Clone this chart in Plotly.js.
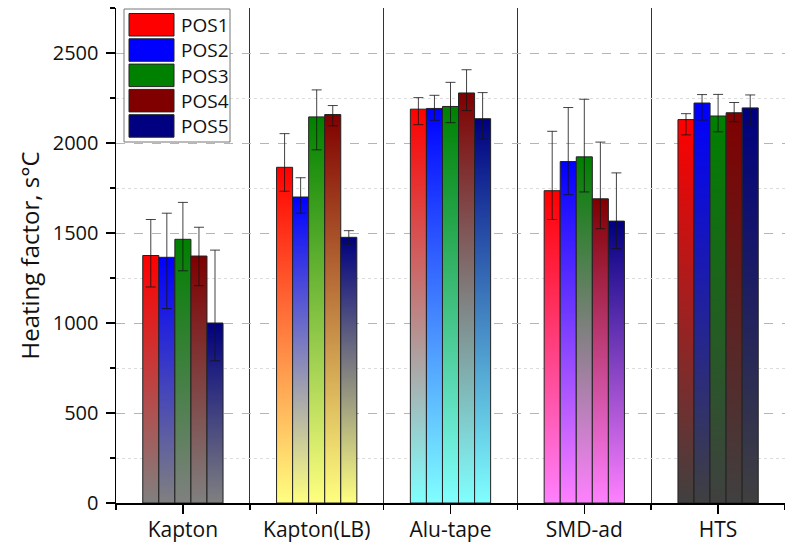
<!DOCTYPE html>
<html>
<head>
<meta charset="utf-8">
<script src="https://cdn.plot.ly/plotly-3.0.1.min.js"></script>
<style>
  html, body { margin: 0; padding: 0; background: #fff; }
  #chart { width: 785px; height: 544px; }
</style>
</head>
<body>
<div id="chart"></div>
<script>
// Sample groups along the x axis
const categories = ['Kapton', 'Kapton(LB)', 'Alu-tape', 'SMD-ad', 'HTS'];
const seriesNames = ['POS1', 'POS2', 'POS3', 'POS4', 'POS5'];

// Heating factor (s°C) per position, one value per sample group
const pos1 = [1375, 1865, 2188, 1735, 2130];
const pos2 = [1365, 1700, 2192, 1897, 2222];
const pos3 = [1465, 2145, 2203, 1923, 2150];
const pos4 = [1372, 2158, 2278, 1690, 2168];
const pos5 = [1000, 1476, 2135, 1566, 2195];

// Error bar extents above (plus) and below (minus) each value
const pos1Plus  = [200, 187, 64, 330, 33];
const pos1Minus = [175, 133, 86, 160, 85];
const pos2Plus  = [245, 107, 73, 300, 47];
const pos2Minus = [285, 90, 66, 184, 95];
const pos3Plus  = [205, 150, 134, 320, 120];
const pos3Minus = [175, 183, 90, 195, 88];
const pos4Plus  = [160, 50, 129, 315, 57];
const pos4Minus = [165, 62, 98, 166, 50];
const pos5Plus  = [405, 37, 145, 268, 72];
const pos5Minus = [210, 38, 113, 153, 96];

const seriesValues = [pos1, pos2, pos3, pos4, pos5];
const seriesPlus = [pos1Plus, pos2Plus, pos3Plus, pos4Plus, pos5Plus];
const seriesMinus = [pos1Minus, pos2Minus, pos3Minus, pos4Minus, pos5Minus];

// Bar top colours per position, bar base colours per sample group
const seriesColors = ['#ff0000', '#0000ff', '#008000', '#800000', '#000080'];
const groupBaseColors = ['#808080', '#ffff80', '#80ffff', '#ff80ff', '#404040'];

const barW = 0.12;   // width of one bar in category units
const nSeries = seriesNames.length;
const offsetOf = s => (s - (nSeries - 1) / 2) * barW;

const traces = [];

// Gradient-filled bars: each bar is a closed outline filled from base colour to position colour
seriesValues.forEach((vals, s) => {
  vals.forEach((v, g) => {
    const xc = g + offsetOf(s);
    const x0 = xc - barW / 2, x1 = xc + barW / 2;
    traces.push({
      type: 'scatter',
      mode: 'lines',
      x: [x0, x1, x1, x0, x0],
      y: [0, 0, v, v, 0],
      fill: 'toself',
      fillgradient: {
        type: 'vertical',
        start: 0,
        stop: v,
        colorscale: [[0, groupBaseColors[g]], [1, seriesColors[s]]]
      },
      line: { color: '#222', width: 1 },
      hoverinfo: 'skip',
      showlegend: false
    });
  });
});

// Error bars for each position
seriesValues.forEach((vals, s) => {
  traces.push({
    type: 'scatter',
    mode: 'markers',
    x: vals.map((_, g) => g + offsetOf(s)),
    y: vals,
    marker: { size: 1, color: 'rgba(0,0,0,0)' },
    error_y: {
      type: 'data',
      symmetric: false,
      array: seriesPlus[s],
      arrayminus: seriesMinus[s],
      color: 'rgba(20,20,20,0.8)',
      thickness: 1,
      width: 5
    },
    hoverinfo: 'skip',
    showlegend: false
  });
});

// Plot area geometry in pixels (used to place the boxed legend)
const W = 785, H = 544;
const M = { l: 116, r: 0, t: 8, b: 41 };
const pw = W - M.l - M.r, ph = H - M.t - M.b;
const px = x => (x - M.l) / pw;
const py = y => (H - M.b - y) / ph;

const shapes = [];
const annotations = [];

// Legend frame
shapes.push({
  type: 'rect', xref: 'paper', yref: 'paper', layer: 'above',
  x0: px(124), x1: px(230), y0: py(142), y1: py(9),
  line: { color: '#777', width: 1 }, fillcolor: '#fff'
});
seriesNames.forEach((name, i) => {
  const top = 13.5 + i * 25.3;
  shapes.push({
    type: 'rect', xref: 'paper', yref: 'paper', layer: 'above',
    x0: px(129), x1: px(174), y0: py(top + 22.5), y1: py(top),
    line: { color: '#222', width: 1 }, fillcolor: seriesColors[i]
  });
  annotations.push({
    xref: 'paper', yref: 'paper', x: px(179), y: py(top + 11.5),
    xanchor: 'left', yanchor: 'middle', showarrow: false,
    text: name,
    font: { family: 'Liberation Sans Narrow, Open Sans, sans-serif', size: 19, color: '#111' }
  });
});

const layout = {
  width: W, height: H,
  margin: M,
  paper_bgcolor: '#fff',
  plot_bgcolor: '#fff',
  showlegend: false,
  font: { family: 'Open Sans, sans-serif', color: '#111' },
  xaxis: {
    range: [-0.5, 4.5],
    tickmode: 'array',
    tickvals: categories.map((_, i) => i),
    ticktext: categories,
    ticks: 'outside', ticklen: 9, tickwidth: 1.5, tickcolor: '#000',
    ticklabelstandoff: -2,
    showline: true, linecolor: '#000', linewidth: 1.5,
    showgrid: false, zeroline: false,
    tickfont: { size: 21, family: 'Open Sans, sans-serif', color: '#111' },
    minor: {
      tickmode: 'linear', tick0: -0.5, dtick: 1,
      ticks: 'outside', ticklen: 5, tickwidth: 1.5, tickcolor: '#000',
      showgrid: true, gridcolor: '#333', gridwidth: 1.3, griddash: 'solid'
    }
  },
  yaxis: {
    range: [0, 2750],
    tick0: 0, dtick: 500,
    ticks: 'outside', ticklen: 9, tickwidth: 1.5, tickcolor: '#000',
    ticklabelstandoff: 3,
    showline: true, linecolor: '#000', linewidth: 1.5,
    showgrid: true, gridcolor: '#b5b5b5', gridwidth: 1, griddash: 'dash',
    zeroline: false,
    tickfont: { size: 20, family: 'Open Sans, sans-serif', color: '#111' },
    minor: {
      dtick: 250,
      ticks: 'outside', ticklen: 5, tickwidth: 1.5, tickcolor: '#000',
      showgrid: true, gridcolor: '#dcdcdc', gridwidth: 1, griddash: 'dot'
    },
    title: {
      text: 'Heating factor, s°C',
      font: { size: 24, family: 'Open Sans, sans-serif', color: '#111' },
      standoff: 6
    }
  },
  shapes: shapes,
  annotations: annotations
};

Plotly.newPlot('chart', traces, layout, { staticPlot: true, displayModeBar: false });
</script>
</body>
</html>
